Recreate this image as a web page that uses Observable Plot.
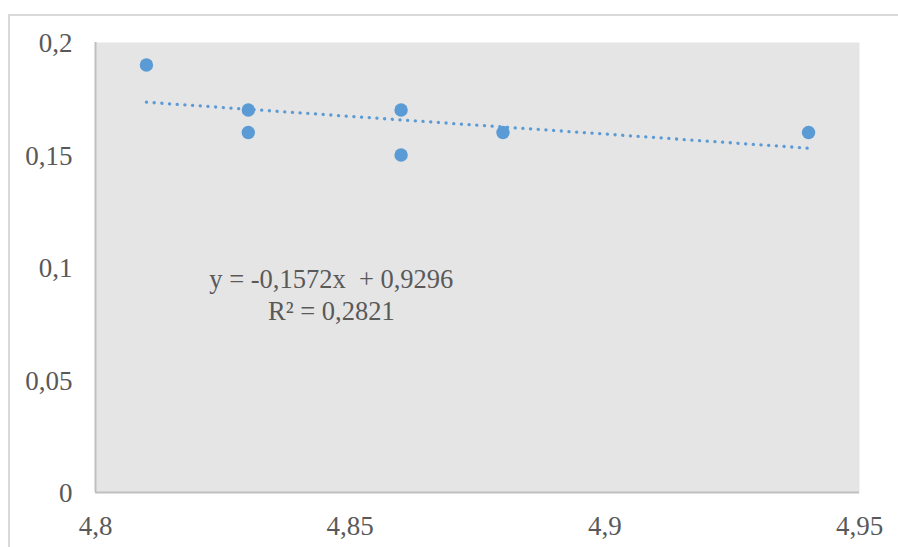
<!DOCTYPE html>
<html>
<head>
<meta charset="utf-8">
<script src="https://cdn.jsdelivr.net/npm/d3@7"></script>
<script src="https://cdn.jsdelivr.net/npm/@observablehq/plot@0.6"></script>
<style>
  html, body { margin: 0; padding: 0; background: #fff; overflow: hidden; }
  #wrap { position: relative; width: 898px; height: 547px; }
  #border { position: absolute; left: 8px; top: 14px; width: 1000px; height: 1000px;
            border: 2px solid #d9d9d9; box-sizing: border-box; pointer-events: none; }
</style>
</head>
<body>
<div id="wrap"><div id="border"></div></div>
<script>
// Data
const xValues = [4.81, 4.83, 4.83, 4.86, 4.86, 4.88, 4.94];
const yValues = [0.19, 0.17, 0.16, 0.17, 0.15, 0.16, 0.16];
const xTicks = [4.8, 4.85, 4.9, 4.95];
const yTicks = [0, 0.05, 0.1, 0.15, 0.2];
const slope = -0.1572;
const intercept = 0.9296;
const rSquared = 0.2821;
const labelPos = [{x: 4.8463, y: 0.0885}];

const points = xValues.map((x, i) => ({x, y: yValues[i]}));
const xMin = d3.min(xValues), xMax = d3.max(xValues);
const trend = [xMin, xMax].map(x => ({x, y: slope * x + intercept}));
const comma = v => String(v).replace(".", ",");
const eqText = `y = ${comma(slope)}x  + ${comma(intercept)}\nR² = ${comma(rSquared)}`;

const font = "'Liberation Serif', 'Times New Roman', serif";
const textColor = "#595959";

const chart = Plot.plot({
  width: 898,
  height: 547,
  marginLeft: 95,
  marginRight: 39,
  marginTop: 42,
  marginBottom: 55,
  style: {background: "transparent", fontFamily: font, color: textColor},
  x: {domain: [4.8, 4.95]},
  y: {domain: [0, 0.2]},
  marks: [
    Plot.frame({fill: "#e5e5e5", stroke: null}),
    Plot.ruleX([4.8], {stroke: "#bfbfbf", strokeWidth: 2}),
    Plot.ruleY([0], {stroke: "#bfbfbf", strokeWidth: 2}),
    Plot.axisY({ticks: yTicks, tickSize: 0, tickPadding: 23, tickFormat: comma,
                fontSize: 27, fontFamily: font, fill: textColor, label: null, dy: 1}),
    Plot.axisX({ticks: xTicks, tickSize: 0, tickPadding: 23, tickFormat: comma,
                fontSize: 27, fontFamily: font, fill: textColor, label: null}),
    Plot.line(trend, {x: "x", y: "y", stroke: "#5b9bd5", strokeWidth: 3.3,
                      strokeDasharray: "0.1 7.6", strokeLinecap: "round"}),
    Plot.dot(points, {x: "x", y: "y", r: 6.7, fill: "#5b9bd5", stroke: null}),
    Plot.text(labelPos, {x: "x", y: "y", text: () => eqText, fontSize: 26.5,
                         lineHeight: 1.22, fontFamily: font, fill: textColor,
                         textAnchor: "middle"})
  ]
});
document.getElementById("wrap").prepend(chart);
chart.style.position = "absolute";
chart.style.left = "0";
chart.style.top = "0";
</script>
</body>
</html>
